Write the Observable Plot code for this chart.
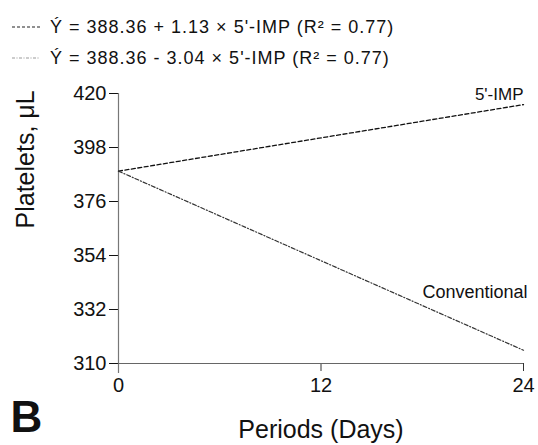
<!DOCTYPE html>
<html>
<head>
<meta charset="utf-8">
<script src="https://cdn.jsdelivr.net/npm/d3@7"></script>
<script src="https://cdn.jsdelivr.net/npm/@observablehq/plot@0.6"></script>
<style>
  html, body { margin: 0; padding: 0; background: #fff; }
  body { width: 538px; height: 445px; overflow: hidden; font-family: "Liberation Sans", Arial, sans-serif; }
  #legend { position: relative; width: 538px; height: 75px; }
  .row { position: absolute; left: 12px; display: flex; align-items: center; font-size: 18px; letter-spacing: 1px; color: #111; white-space: nowrap; }
  .row svg { margin-right: 10px; }
  #chart svg { display: block; }
</style>
</head>
<body>
<div id="legend"></div>
<div id="chart"></div>
<script>
// Data
const periods = [0, 24];
const impValues = [388.36, 415.48];
const convValues = [388.36, 315.40];
const xTicks = [0, 12, 24];
const yTicks = [310, 332, 354, 376, 398, 420];
const seriesNames = ["5'-IMP", "Conventional"];
const legendLabels = [
  "Ý = 388.36 + 1.13 × 5'-IMP (R² = 0.77)",
  "Ý = 388.36 - 3.04 × 5'-IMP (R² = 0.77)"
];

const styles = [
  {stroke: "#111", dash: "4,2.5"},
  {stroke: "#333", dash: "4,2,1,2"}
];
const legendStyles = [
  {stroke: "#222", dash: "3,2"},
  {stroke: "#999", dash: "3,1.5,1,1.5"}
];

// Legend (HTML)
const legend = document.getElementById("legend");
legendLabels.forEach((lab, i) => {
  const row = document.createElement("div");
  row.className = "row";
  row.style.top = (i === 0 ? 16 : 47) + "px";
  row.innerHTML = `<svg width="28" height="22"><line x1="0" x2="28" y1="11" y2="11" stroke="${legendStyles[i].stroke}" stroke-width="1.2" stroke-dasharray="${legendStyles[i].dash}"/></svg><span>${lab}</span>`;
  legend.appendChild(row);
});

const impData = periods.map((p, i) => ({x: p, y: impValues[i]}));
const convData = periods.map((p, i) => ({x: p, y: convValues[i]}));
const impLabel = [{x: periods[1], y: impValues[1], text: seriesNames[0]}];
const convLabel = [{x: periods[1], y: convValues[1], text: seriesNames[1]}];

const chart = Plot.plot({
  width: 538,
  height: 370,
  marginTop: 18,
  marginBottom: 82,
  marginLeft: 118,
  marginRight: 15,
  style: {fontFamily: "'Liberation Sans', Arial, sans-serif", color: "#111", background: "#fff"},
  x: {domain: [0, 24]},
  y: {domain: [310, 420]},
  marks: [
    Plot.axisX({ticks: xTicks, tickSize: 8, tickPadding: 6, fontSize: 20, label: null, stroke: "#333", style: "letter-spacing:1.5px"}),
    Plot.axisY({ticks: yTicks, tickSize: 9, tickPadding: 3, fontSize: 20, label: null, stroke: "#111", style: "letter-spacing:1.5px"}),
    Plot.ruleX([0], {stroke: "#777", strokeWidth: 1.2, insetBottom: -10}),
    Plot.ruleY([310], {stroke: "#666", strokeWidth: 1.2}),
    Plot.line(impData, {x: "x", y: "y", stroke: styles[0].stroke, strokeWidth: 1.3, strokeDasharray: styles[0].dash}),
    Plot.line(convData, {x: "x", y: "y", stroke: styles[1].stroke, strokeWidth: 1.2, strokeDasharray: styles[1].dash}),
    Plot.text(impLabel, {x: "x", y: "y", text: "text", dy: -10, textAnchor: "end", fontSize: 17, fill: "#111", style: "letter-spacing:0.5px"}),
    Plot.text(convLabel, {x: "x", y: "y", text: "text", dy: -58, dx: 4, textAnchor: "end", fontSize: 18, fill: "#111", style: "letter-spacing:1.5px"}),
    Plot.text(["Periods (Days)"], {frameAnchor: "bottom", dy: 74, fontSize: 25, fill: "#111"}),
    Plot.text(["Platelets, μL"], {frameAnchor: "left", dx: -93, rotate: -90, fontSize: 25, fill: "#111"}),
    Plot.text(["B"], {frameAnchor: "bottom-left", dx: -108, dy: 68, textAnchor: "start", fontSize: 44, fontWeight: "bold", fill: "#111"})
  ]
});
document.getElementById("chart").appendChild(chart);
</script>
</body>
</html>
